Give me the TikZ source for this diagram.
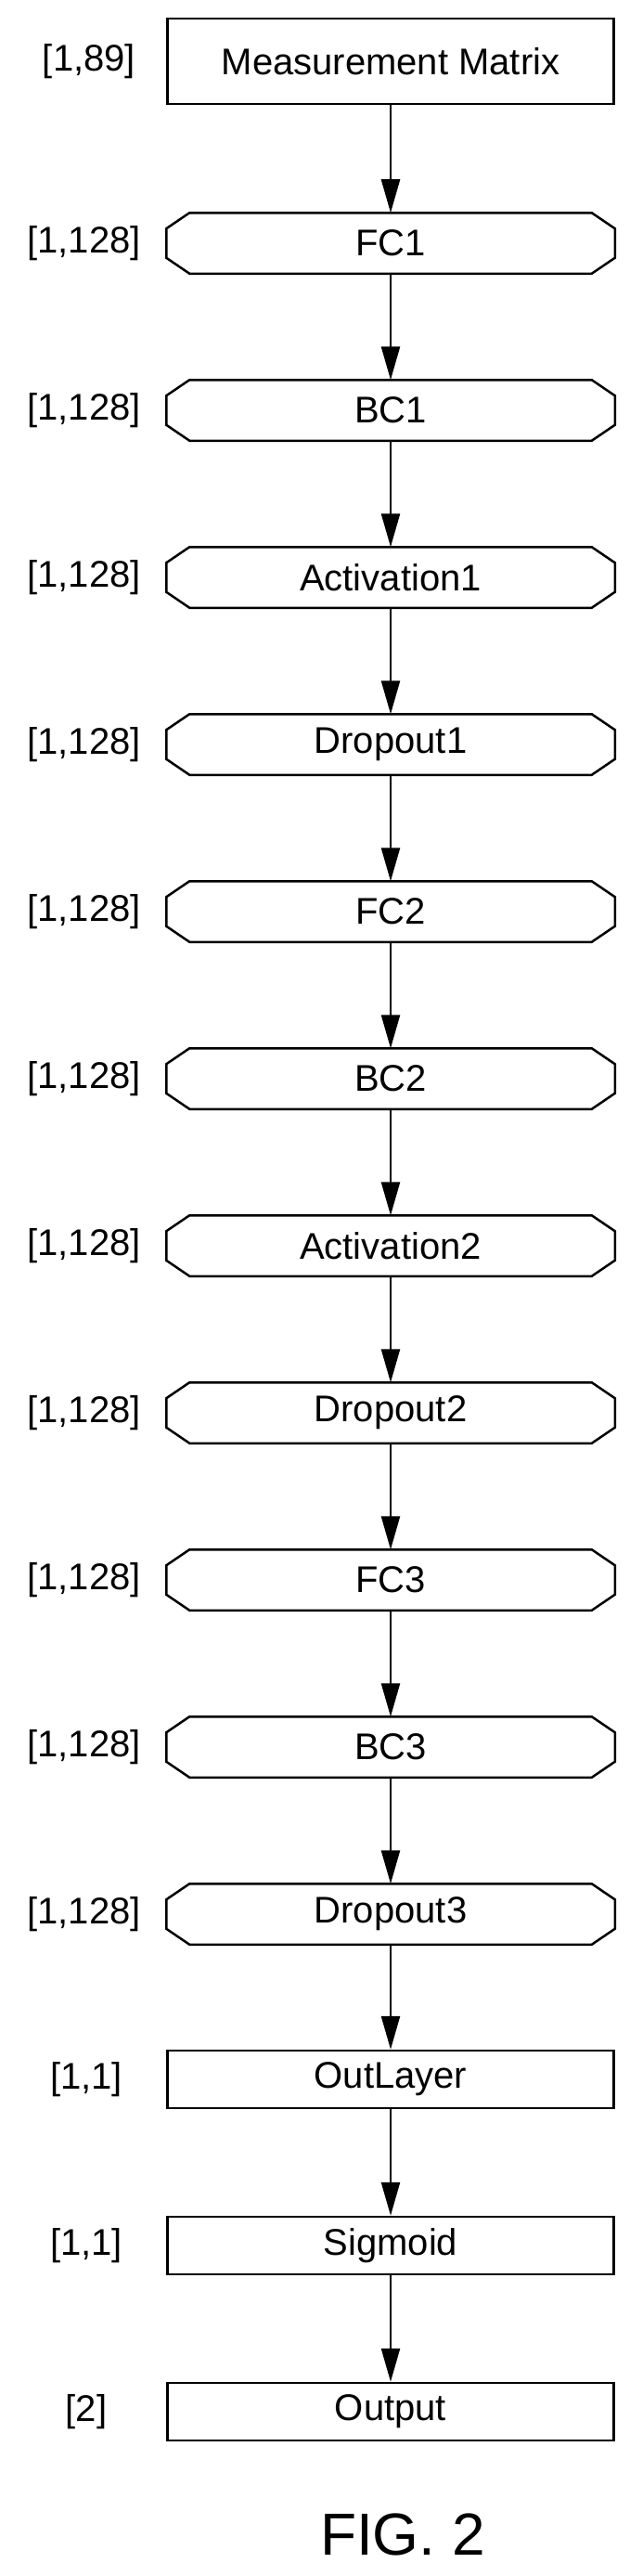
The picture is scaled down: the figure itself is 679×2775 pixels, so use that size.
\documentclass[tikz,border=0pt]{standalone}
\usepackage{fontspec}
\setmainfont{Liberation Sans}
\usetikzlibrary{arrows.meta}
\begin{document}
\begin{tikzpicture}[x=1pt,y=-1pt,
  box/.style={draw,line width=2.5pt,minimum width=481pt,inner sep=0pt,font=\fontsize{40}{44}\selectfont},
  hex/.style={box,draw=none,minimum height=63pt},
  lab/.style={font=\fontsize{40}{44}\selectfont,inner sep=0pt},
  arr/.style={line width=2.5pt,-{Triangle[length=36pt,width=20pt]}}]
\fill[white] (0,0) rectangle (679,2775);
\useasboundingbox (0,0) rectangle (679,2775);
\newcommand{\hexout}[1]{\draw[line width=2.5pt] ([xshift=25pt]#1.north west) -- ([xshift=-25pt]#1.north east) -- ([yshift=-17pt]#1.north east) -- ([yshift=17pt]#1.south east) -- ([xshift=-25pt]#1.south east) -- ([xshift=25pt]#1.south west) -- ([yshift=17pt]#1.south west) -- ([yshift=-17pt]#1.north west) -- cycle;}
\node[box,minimum height=92pt] (n0) at (421,66) {Measurement Matrix};
\node[lab] (l0) at (96,66) {[1,89]};
\foreach \t [count=\i] in {FC1,BC1,Activation1,Dropout1,FC2,BC2,Activation2,Dropout2,FC3,BC3,Dropout3}{
  \node[hex] (n\i) at (421,{262+180*(\i-1)}) {\t};
  \hexout{n\i}
  \node[lab,anchor=east] (l\i) at (152,{262+180*(\i-1)}) {[1,128]};
}
\node[box,minimum height=62pt] (n12) at (421,2240) {OutLayer};
\node[lab] (l12) at (93,2240) {[1,1]};
\node[box,minimum height=62pt] (n13) at (421,2419) {Sigmoid};
\node[lab] (l13) at (93,2419) {[1,1]};
\node[box,minimum height=62pt] (n14) at (421,2598) {Output};
\node[lab] (l14) at (93,2598) {[2]};
\foreach \a [evaluate=\a as \b using int(\a+1)] in {0,...,13}{
  \draw[arr] (n\a.south) -- (n\b.north);
}
\node[lab,font=\fontsize{64}{70}\selectfont] (fig) at (434,2730) {FIG. 2};
\end{tikzpicture}
\end{document}
